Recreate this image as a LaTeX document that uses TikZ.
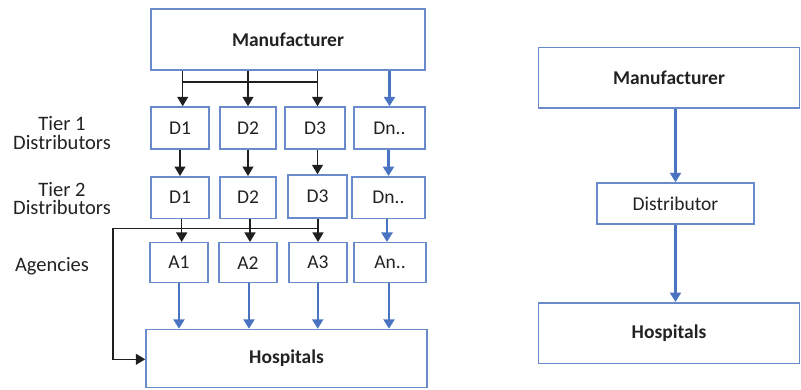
\documentclass[tikz,border=0pt]{standalone}
\usepackage{fontspec}
\setmainfont{Carlito}
\usetikzlibrary{arrows.meta}
\definecolor{boxblue}{HTML}{6A8BCB}
\definecolor{arrblue}{HTML}{4A73C2}
\definecolor{txt}{HTML}{222222}
\tikzset{
  box/.style={draw=boxblue, line width=1.5pt, inner sep=0pt, text=txt, font=\fontsize{19.5}{20}\selectfont},
  bbox/.style={box, font=\fontsize{19.5}{20}\selectfont\bfseries},
  barr/.style={draw=black!88, line width=1.4pt, -{Triangle[length=9.5pt,width=11pt]}},
  blarr/.style={draw=arrblue, line width=2.4pt, -{Triangle[length=9.5pt,width=11pt]}},
  lab/.style={align=center, text=txt, font=\fontsize{20.5}{18.5}\selectfont, inner sep=0pt},
}
\begin{document}
\begin{tikzpicture}[x=1pt,y=-1pt]
\useasboundingbox (0,0) rectangle (801,389);
% left diagram
\node[bbox, minimum width=274pt, minimum height=61pt] (M) at (288,39.5) {Manufacturer};
\node[box, minimum width=58pt, minimum height=42pt] (T1a) at (180,128) {D1};
\node[box, minimum width=56pt, minimum height=42pt] (T1b) at (248,128) {D2};
\node[box, minimum width=60pt, minimum height=42pt] (T1c) at (315,128) {D3};
\node[box, minimum width=71pt, minimum height=42pt] (T1d) at (389.5,128) {Dn..};
\node[box, minimum width=58pt, minimum height=41.5pt] (T2a) at (180,197.5) {D1};
\node[box, minimum width=56pt, minimum height=41.5pt] (T2b) at (248,197.5) {D2};
\node[box, minimum width=59pt, minimum height=43pt] (T2c) at (317.5,196.5) {D3};
\node[box, minimum width=73pt, minimum height=41.5pt] (T2d) at (388.5,197.5) {Dn..};
\node[box, minimum width=58pt, minimum height=40pt] (Aa) at (179,262.7) {A1};
\node[box, minimum width=58pt, minimum height=40pt] (Ab) at (248,262.7) {A2};
\node[box, minimum width=58pt, minimum height=40pt] (Ac) at (318,262.7) {A3};
\node[box, minimum width=72pt, minimum height=40pt] (Ad) at (390,262.7) {An..};
\node[bbox, minimum width=281pt, minimum height=58pt] (H) at (286.5,358.5) {Hospitals};
% labels
\node[lab] (L1) at (62,133) {Tier 1\\Distributors};
\node[lab] (L2) at (62,198.5) {Tier 2\\Distributors};
\node[lab] (L3) at (52,266) {Agencies};
% manufacturer to tier 1
\coordinate (ja) at (182.7,82);
\coordinate (jc) at (317.5,82);
\draw[draw=black!88, line width=1.4pt] (ja) -- (jc);
\draw[barr] (M.south -| ja) -- (T1a.north -| ja);
\draw[barr] (M.south -| T1b) -- (T1b.north);
\draw[barr] (M.south -| jc) -- (T1c.north -| jc);
\draw[blarr] (M.south -| T1d) -- (T1d.north);
% tier1 to tier2
\draw[barr] (T1a.south) -- (T2a.north -| T1a);
\draw[barr] (T1b.south) -- (T2b.north -| T1b);
\draw[barr] (T1c.south -| jc) -- (T2c.north -| jc);
\draw[blarr] (T1d.south -| T2d) -- (T2d.north);
% tier2 to agencies
\coordinate (ka) at (113,228.3);
\coordinate (kc) at (318,228.3);
\coordinate (kb) at (113,359.3);
\draw[draw=black!88, line width=1.4pt] (ka) -- (kc);
\draw[barr] (T2a.south -| 181.7,0) -- (Aa.north -| 181.7,0);
\draw[barr] (T2b.south -| 250,0) -- (Ab.north -| 250,0);
\draw[barr] (T2c.south -| kc) -- (Ac.north -| kc);
\draw[blarr] (T2d.south -| 387,0) -- (Ad.north -| 387,0);
\draw[barr] (ka) -- (kb) -- (H.west |- kb);
% agencies to hospitals
\draw[blarr] (Aa.south) -- (H.north -| Aa);
\draw[blarr] (Ab.south -| 249,0) -- (H.north -| 249,0);
\draw[blarr] (Ac.south -| 317.7,0) -- (H.north -| 317.7,0);
\draw[blarr] (Ad.south -| 389,0) -- (H.north -| 389,0);
% right diagram
\node[bbox, minimum width=261pt, minimum height=60.5pt] (RM) at (669,77.5) {Manufacturer};
\node[box, minimum width=157pt, minimum height=41pt] (RD) at (675.5,203.5) {Distributor};
\node[bbox, minimum width=261pt, minimum height=60.5pt] (RH) at (669,333) {Hospitals};
\draw[blarr] (RM.south -| RD) -- (RD.north);
\draw[blarr] (RD.south) -- (RH.north -| RD);
\end{tikzpicture}
\end{document}
